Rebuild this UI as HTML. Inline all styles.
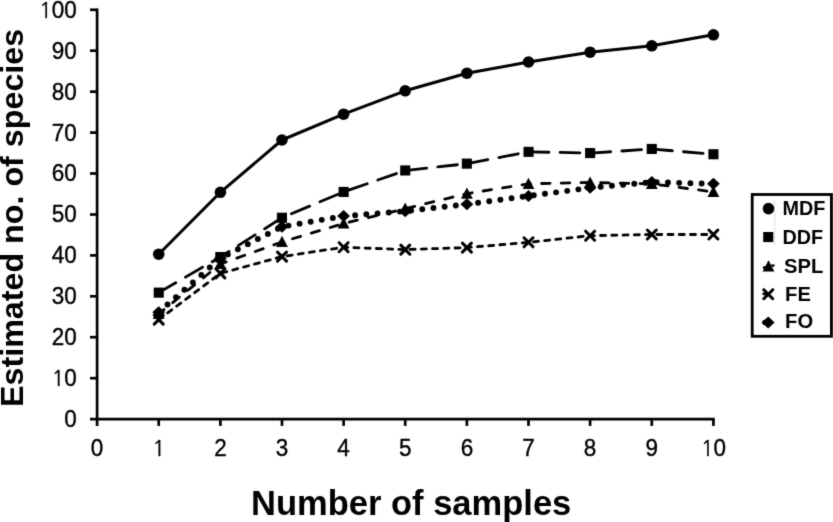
<!DOCTYPE html>
<html><head><meta charset="utf-8"><title>Species accumulation</title>
<style>
html,body{margin:0;padding:0;background:#fff;}
body{width:833px;height:522px;overflow:hidden;}
svg{display:block;font-family:"Liberation Sans",Arial,sans-serif;}
.t{font-size:22.5px;fill:#000;stroke:#000;stroke-width:0.35px;}
.n{font-family:NanumGothic,"Liberation Sans",sans-serif;font-size:20.7px;}
.b{font-weight:bold;fill:#000;}
</style></head><body>
<svg width="833" height="522" viewBox="0 0 833 522">
<defs><filter id="soft" color-interpolation-filters="sRGB" x="0" y="0" width="833" height="522" filterUnits="userSpaceOnUse"><feConvolveMatrix order="3" kernelMatrix="0.0144 0.0912 0.0144 0.0912 0.5776 0.0912 0.0144 0.0912 0.0144" edgeMode="duplicate" preserveAlpha="true"/></filter></defs>
<rect width="833" height="522" fill="#fff"/>
<g filter="url(#soft)">
<rect width="833" height="522" fill="#fff"/>

<g stroke="#000" stroke-width="2.7" fill="none">
<path d="M97.1 8.5V425.90000000000003"/>
<path d="M90.0 419.1H714.7"/>
<path d="M158.7 419.1V425.90000000000003"/>
<path d="M220.4 419.1V425.90000000000003"/>
<path d="M282.0 419.1V425.90000000000003"/>
<path d="M343.6 419.1V425.90000000000003"/>
<path d="M405.2 419.1V425.90000000000003"/>
<path d="M466.9 419.1V425.90000000000003"/>
<path d="M528.5 419.1V425.90000000000003"/>
<path d="M590.1 419.1V425.90000000000003"/>
<path d="M651.8 419.1V425.90000000000003"/>
<path d="M713.4 419.1V425.90000000000003"/>
<path d="M90.0 378.2H97.1"/>
<path d="M90.0 337.2H97.1"/>
<path d="M90.0 296.3H97.1"/>
<path d="M90.0 255.4H97.1"/>
<path d="M90.0 214.5H97.1"/>
<path d="M90.0 173.5H97.1"/>
<path d="M90.0 132.6H97.1"/>
<path d="M90.0 91.7H97.1"/>
<path d="M90.0 50.7H97.1"/>
<path d="M90.0 9.8H97.1"/>
</g>
<g class="t" text-anchor="end">
<text transform="translate(76.8 427.0) scale(1 1.07)">0</text>
<text transform="translate(76.8 386.1) scale(1 1.07)"><tspan class="n">1</tspan>0</text>
<text transform="translate(76.8 345.1) scale(1 1.07)">20</text>
<text transform="translate(76.8 304.2) scale(1 1.07)">30</text>
<text transform="translate(76.8 263.3) scale(1 1.07)">40</text>
<text transform="translate(76.8 222.4) scale(1 1.07)">50</text>
<text transform="translate(76.8 181.4) scale(1 1.07)">60</text>
<text transform="translate(76.8 140.5) scale(1 1.07)">70</text>
<text transform="translate(76.8 99.6) scale(1 1.07)">80</text>
<text transform="translate(76.8 58.6) scale(1 1.07)">90</text>
<text transform="translate(76.8 17.7) scale(1 1.07)"><tspan class="n">1</tspan>00</text>
</g>
<g class="t" text-anchor="middle">
<text transform="translate(97.1 455.5) scale(1 1.07)">0</text>
<text transform="translate(158.7 455.5) scale(1 1.07)"><tspan class="n">1</tspan></text>
<text transform="translate(220.4 455.5) scale(1 1.07)">2</text>
<text transform="translate(282.0 455.5) scale(1 1.07)">3</text>
<text transform="translate(343.6 455.5) scale(1 1.07)">4</text>
<text transform="translate(405.2 455.5) scale(1 1.07)">5</text>
<text transform="translate(466.9 455.5) scale(1 1.07)">6</text>
<text transform="translate(528.5 455.5) scale(1 1.07)">7</text>
<text transform="translate(590.1 455.5) scale(1 1.07)">8</text>
<text transform="translate(651.8 455.5) scale(1 1.07)">9</text>
<text transform="translate(713.4 455.5) scale(1 1.07)"><tspan class="n">1</tspan>0</text>
</g>
<text class="b" font-size="34.5" x="251.1" y="514.7">Number of samples</text>
<text class="b" font-size="32.25" transform="translate(23.4 407) rotate(-90)">Estimated no. of species</text>
<polyline points="158.7,319.6 220.4,273.4 282.0,256.6 343.6,247.2 405.2,249.6 466.9,247.6 528.5,242.3 590.1,235.7 651.8,234.5 713.4,234.5" fill="none" stroke="#000" stroke-linejoin="round" stroke-width="2.81" stroke-dasharray="5.06 6.18" stroke-linecap="round"/>
<polyline points="158.7,313.9 220.4,264.0 282.0,241.9 343.6,223.5 405.2,208.7 466.9,193.6 528.5,183.8 590.1,182.5 651.8,183.8 713.4,191.9" fill="none" stroke="#000" stroke-linejoin="round" stroke-width="2.81" stroke-dasharray="8.43 11.24" stroke-dashoffset="1.6" stroke-linecap="round"/>
<polyline points="158.7,312.3 220.4,258.2 282.0,226.7 343.6,216.1 405.2,211.2 466.9,204.2 528.5,196.0 590.1,187.8 651.8,182.1 713.4,183.8" fill="none" stroke="#000" stroke-linejoin="round" stroke-width="5.9" stroke-dasharray="0 11.24" stroke-dashoffset="-0.5" stroke-linecap="round"/>
<polyline points="158.7,292.6 220.4,257.0 282.0,217.7 343.6,191.9 405.2,170.5 466.9,163.7 528.5,151.8 590.1,153.1 651.8,149.0 713.4,154.3" fill="none" stroke="#000" stroke-linejoin="round" stroke-width="2.81" stroke-dasharray="19.67 11.24" stroke-linecap="round"/>
<polyline points="158.7,254.2 220.4,192.3 282.0,140.0 343.6,114.2 405.2,90.8 466.9,73.2 528.5,62.0 590.1,52.2 651.8,45.8 713.4,34.8" fill="none" stroke="#000" stroke-linejoin="round" stroke-width="3"/>
<g fill="#000">
<path d="M154.2 315.1L163.2 324.1M163.2 315.1L154.2 324.1" stroke="#000" stroke-width="3" fill="none" stroke-linecap="round"/>
<path d="M215.9 268.9L224.9 277.9M224.9 268.9L215.9 277.9" stroke="#000" stroke-width="3" fill="none" stroke-linecap="round"/>
<path d="M277.5 252.1L286.5 261.1M286.5 252.1L277.5 261.1" stroke="#000" stroke-width="3" fill="none" stroke-linecap="round"/>
<path d="M339.1 242.7L348.1 251.7M348.1 242.7L339.1 251.7" stroke="#000" stroke-width="3" fill="none" stroke-linecap="round"/>
<path d="M400.8 245.1L409.8 254.1M409.8 245.1L400.8 254.1" stroke="#000" stroke-width="3" fill="none" stroke-linecap="round"/>
<path d="M462.4 243.1L471.4 252.1M471.4 243.1L462.4 252.1" stroke="#000" stroke-width="3" fill="none" stroke-linecap="round"/>
<path d="M524.0 237.8L533.0 246.8M533.0 237.8L524.0 246.8" stroke="#000" stroke-width="3" fill="none" stroke-linecap="round"/>
<path d="M585.6 231.2L594.6 240.2M594.6 231.2L585.6 240.2" stroke="#000" stroke-width="3" fill="none" stroke-linecap="round"/>
<path d="M647.3 230.0L656.3 239.0M656.3 230.0L647.3 239.0" stroke="#000" stroke-width="3" fill="none" stroke-linecap="round"/>
<path d="M708.9 230.0L717.9 239.0M717.9 230.0L708.9 239.0" stroke="#000" stroke-width="3" fill="none" stroke-linecap="round"/>
</g>
<g fill="#000">
<path d="M158.7 307.8L164.6 319.0L152.8 319.0Z"/>
<path d="M220.4 257.9L226.3 269.1L214.5 269.1Z"/>
<path d="M282.0 235.8L287.9 247.0L276.1 247.0Z"/>
<path d="M343.6 217.4L349.5 228.6L337.7 228.6Z"/>
<path d="M405.2 202.6L411.1 213.8L399.4 213.8Z"/>
<path d="M466.9 187.5L472.8 198.7L461.0 198.7Z"/>
<path d="M528.5 177.7L534.4 188.9L522.6 188.9Z"/>
<path d="M590.1 176.4L596.0 187.6L584.2 187.6Z"/>
<path d="M651.8 177.7L657.7 188.9L645.9 188.9Z"/>
<path d="M713.4 185.8L719.3 197.0L707.5 197.0Z"/>
</g>
<g fill="#000">
<path d="M158.7 306.3L165.1 312.3L158.7 318.3L152.3 312.3Z"/>
<path d="M220.4 252.2L226.8 258.2L220.4 264.2L214.0 258.2Z"/>
<path d="M282.0 220.7L288.4 226.7L282.0 232.7L275.6 226.7Z"/>
<path d="M343.6 210.1L350.0 216.1L343.6 222.1L337.2 216.1Z"/>
<path d="M405.2 205.2L411.6 211.2L405.2 217.2L398.9 211.2Z"/>
<path d="M466.9 198.2L473.3 204.2L466.9 210.2L460.5 204.2Z"/>
<path d="M528.5 190.0L534.9 196.0L528.5 202.0L522.1 196.0Z"/>
<path d="M590.1 181.8L596.5 187.8L590.1 193.8L583.7 187.8Z"/>
<path d="M651.8 176.1L658.2 182.1L651.8 188.1L645.4 182.1Z"/>
<path d="M713.4 177.8L719.8 183.8L713.4 189.8L707.0 183.8Z"/>
</g>
<g fill="#000">
<rect x="153.7" y="287.6" width="10.1" height="10.1"/>
<rect x="215.3" y="252.0" width="10.1" height="10.1"/>
<rect x="276.9" y="212.7" width="10.1" height="10.1"/>
<rect x="338.6" y="186.9" width="10.1" height="10.1"/>
<rect x="400.2" y="165.4" width="10.1" height="10.1"/>
<rect x="461.8" y="158.6" width="10.1" height="10.1"/>
<rect x="523.5" y="146.8" width="10.1" height="10.1"/>
<rect x="585.1" y="148.0" width="10.1" height="10.1"/>
<rect x="646.7" y="143.9" width="10.1" height="10.1"/>
<rect x="708.4" y="149.2" width="10.1" height="10.1"/>
</g>
<g fill="#000">
<circle cx="158.7" cy="254.2" r="5.8"/>
<circle cx="220.4" cy="192.3" r="5.8"/>
<circle cx="282.0" cy="140.0" r="5.8"/>
<circle cx="343.6" cy="114.2" r="5.8"/>
<circle cx="405.2" cy="90.8" r="5.8"/>
<circle cx="466.9" cy="73.2" r="5.8"/>
<circle cx="528.5" cy="62.0" r="5.8"/>
<circle cx="590.1" cy="52.2" r="5.8"/>
<circle cx="651.8" cy="45.8" r="5.8"/>
<circle cx="713.4" cy="34.8" r="5.8"/>
</g>
<rect x="752.2" y="194.5" width="79.2" height="141.8" fill="#fff" stroke="#000" stroke-width="2.8"/>
<g stroke="#000" stroke-width="2.6" stroke-linecap="round"><path d="M764 267.6H765"/><path d="M772.5 265.5H773.3"/><path d="M763.6 293.9H767"/></g><circle cx="764.9" cy="322.4" r="2.7"/>
<path d="M774.8 200V245" stroke="#ddd" stroke-width="1"/>
<g fill="#000">
<circle cx="768.5" cy="208.6" r="5.8"/>
<rect x="763.2" y="232.0" width="10.1" height="10.1"/>
<path d="M768.5 260.2L774.4 271.4L762.6 271.4Z"/>
<path d="M763.8 289.7L772.8 298.7M772.8 289.7L763.8 298.7" stroke="#000" stroke-width="3" fill="none" stroke-linecap="round"/>
<path d="M768.2 316.4L774.6 322.4L768.2 328.4L761.8 322.4Z"/>
</g>
<g class="b">
<text x="782.6" y="215.1" font-size="19.8">MDF</text>
<text x="782.5" y="243.6" font-size="19.8">DDF</text>
<text x="784.0" y="273.1" font-size="20.2">SPL</text>
<text x="785.1" y="301.0" font-size="20.2">FE</text>
<text x="785.1" y="328.2" font-size="20.2">FO</text>
</g>
</g></svg></body></html>
